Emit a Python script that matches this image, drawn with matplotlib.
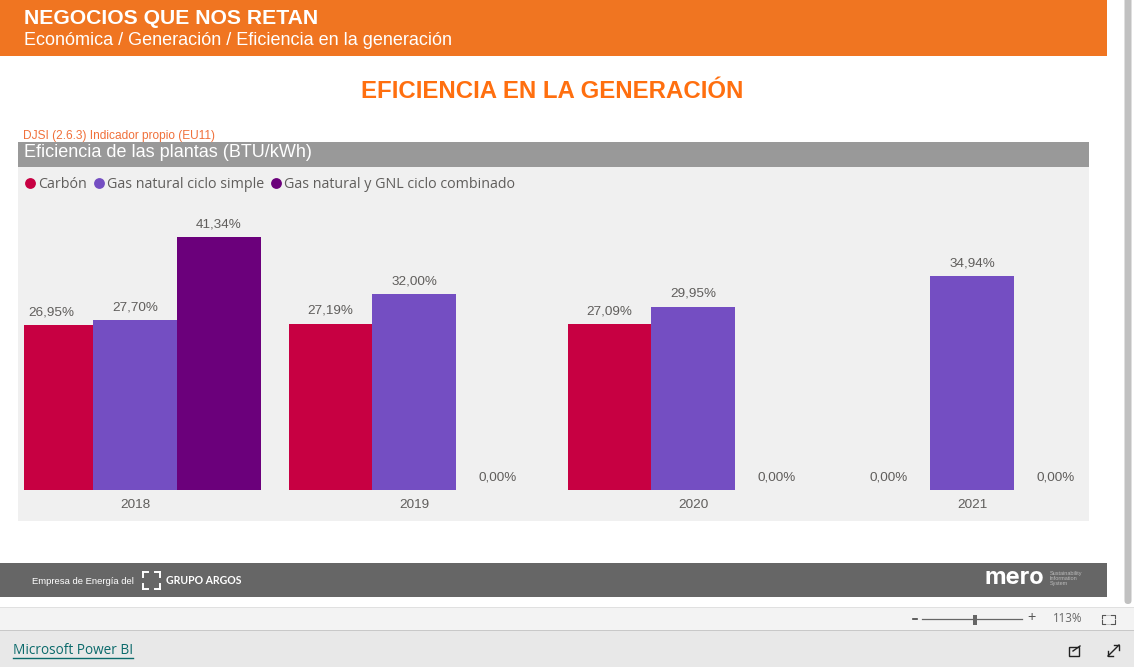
import matplotlib
matplotlib.use("Agg")
import matplotlib.pyplot as plt
from matplotlib.patches import Rectangle, FancyBboxPatch
from matplotlib.lines import Line2D

years = ["2018", "2019", "2020", "2021"]
carbon = [26.95, 27.19, 27.09, 0.0]
gas_simple = [27.70, 32.00, 29.95, 34.94]
gas_combined = [41.34, 0.0, 0.0, 0.0]
series_names = ["Carbón", "Gas natural ciclo simple", "Gas natural y GNL ciclo combinado"]
series_colors = ["#C70042", "#744EC2", "#6B007B"]

W, H = 1134, 667
SANS = ["Liberation Sans", "DejaVu Sans"]
UI = ["Open Sans", "DejaVu Sans"]
fig = plt.figure(figsize=(W / 100, H / 100), dpi=100, facecolor="white")

bg = fig.add_axes([0, 0, 1, 1], zorder=0)
bg.set_xlim(0, W)
bg.set_ylim(H, 0)
bg.axis("off")

def rect(x0, y0, x1, y1, color):
    bg.add_patch(Rectangle((x0, y0), x1 - x0, y1 - y0, facecolor=color, edgecolor="none"))

def txt(x, y, s, size, color, family=SANS, weight="normal", ha="left", **kw):
    return bg.text(x, y, s, fontsize=size, color=color, family=family, weight=weight,
                   ha=ha, va="center", **kw)

# page chrome
rect(0, 0, 1107, 56, "#F07521")
rect(18, 142, 1089, 167, "#999999")
rect(18, 167, 1089, 521, "#F0F0F0")
rect(0, 563, 1107, 597, "#666666")
rect(0, 607, W, 631, "#F3F3F3")
rect(0, 607, W, 608, "#E0E0E0")
rect(0, 630, W, 631, "#C8C8C8")
rect(0, 631, W, H, "#E8E8E8")
bg.add_patch(FancyBboxPatch((1124.5, -5), 7, 609, boxstyle="round,pad=0,rounding_size=3.5",
                            facecolor="#C1C1C1", edgecolor="none"))

# header and titles
txt(23.5, 18.5, "NEGOCIOS QUE NOS RETAN", 15.2, "white", weight="bold")
txt(23.5, 40.5, "Económica / Generación / Eficiencia en la generación", 12.95, "white")
txt(552, 91.5, "EFICIENCIA EN LA GENERACIÓN", 17.3, "#FF6F0F", weight="bold", ha="center")
txt(23, 135.5, "DJSI (2.6.3) Indicador propio (EU11)", 8.6, "#F0703A")
txt(23.5, 152.5, "Eficiencia de las plantas (BTU/kWh)", 13.0, "white")

# footer
txt(32, 581, "Empresa de Energía del", 6.8, "white")
for x0, x1, y0, y1 in [(143, 148, 572, 572), (143, 143, 572, 577), (155, 160, 572, 572), (160, 160, 572, 577),
                       (143, 143, 584, 589), (143, 148, 589, 589), (160, 160, 584, 589), (155, 160, 589, 589)]:
    bg.add_line(Line2D([x0, x1], [y0, y1], color="white", lw=1.4))
txt(165.5, 580.5, "GRUPO ARGOS", 7.6, "white", family=["Lato", "DejaVu Sans"], weight="bold")
txt(985, 578, "mero", 17, "white", family=["Inter", "DejaVu Sans"], weight="bold")
for y, s in [(574, "Sustainability"), (578.5, "Information"), (583, "System")]:
    txt(1050, y, s, 4.0, "#BBBBBB")

# status bar
bg.add_line(Line2D([913, 917], [619, 619], color="#444444", lw=1.2))
bg.add_line(Line2D([922, 1022], [619, 619], color="#666666", lw=0.9))
rect(973, 615, 977, 625, "#666666")
txt(1032, 618.5, "+", 10.5, "#555555", ha="center", family=UI)
txt(1067.5, 619, "113%", 8.3, "#666666", ha="center", family=UI)
for xs, ys in [([1101.5, 1101.5, 1105], [618, 614.5, 614.5]), ([1111, 1114.5, 1114.5], [614.5, 614.5, 618]),
               ([1101.5, 1101.5, 1105], [620, 623.5, 623.5]), ([1111, 1114.5, 1114.5], [623.5, 623.5, 620])]:
    bg.add_line(Line2D(xs, ys, color="#555555", lw=0.8))
bg.add_patch(Rectangle((1101.5, 614.5), 13, 9, facecolor="none", edgecolor="#BBBBBB", lw=0.6))
txt(13, 651, "Microsoft Power BI", 9.8, "#0B6A6B", family=UI, weight="medium")
bg.add_line(Line2D([13, 133], [658, 658], color="#0B6A6B", lw=1))
bg.add_patch(Rectangle((1069, 647), 10, 9, facecolor="none", edgecolor="#222222", lw=1))
bg.add_line(Line2D([1073, 1080], [651, 646], color="#222222", lw=1))
bg.add_line(Line2D([1108, 1119], [656, 645], color="#222222", lw=1))
bg.add_line(Line2D([1114, 1119, 1119], [645, 645, 650], color="#222222", lw=1))
bg.add_line(Line2D([1108, 1108, 1113], [651, 656, 656], color="#222222", lw=1))

# chart: plotted in its own axes, x in categories, y in percent
left, right, top, base = 23.5, 1083, 200, 490
ax = fig.add_axes([left / W, 1 - base / H, (right - left) / W, (base - top) / H], zorder=1)
ax.patch.set_alpha(0)
px_per_cat = 279
px_per_unit = 6.12
ax.set_xlim((left - 135.3) / px_per_cat, (right - 135.3) / px_per_cat)
ax.set_ylim(0, (base - top) / px_per_unit)
bar_w = 0.3
for i, (vals, color) in enumerate(zip([carbon, gas_simple, gas_combined], series_colors)):
    for j, v in enumerate(vals):
        x = j + (i - 1) * bar_w
        ax.bar(x, v, width=bar_w, color=color, linewidth=0)
        label = f"{v:.2f}%".replace(".", ",")
        ax.annotate(label, (x, v), xytext=(0, 9.2), textcoords="offset points",
                    ha="center", va="center", fontsize=9.7, color="#605E5C", family=SANS,
                    annotation_clip=False)
ax.set_xticks(range(len(years)), years)
ax.tick_params(axis="x", length=0, pad=6.4, labelsize=9.7, labelcolor="#605E5C")
for t in ax.get_xticklabels():
    t.set_family(SANS)
ax.set_yticks([])
for s in ax.spines.values():
    s.set_visible(False)

handles = [Line2D([], [], linestyle="none", marker="o", markersize=7.8, color=c, markeredgewidth=0)
           for c in series_colors]
fig.legend(handles, series_names, loc="center left", bbox_to_anchor=(23 / W, 1 - 184.5 / H), ncol=3,
           frameon=False, labelcolor="#605E5C", handlelength=1, handletextpad=0.05, columnspacing=0.35,
           borderaxespad=0, borderpad=0, prop={"family": UI, "size": 10.3})

fig.savefig("out.png", dpi=100, facecolor="white")
